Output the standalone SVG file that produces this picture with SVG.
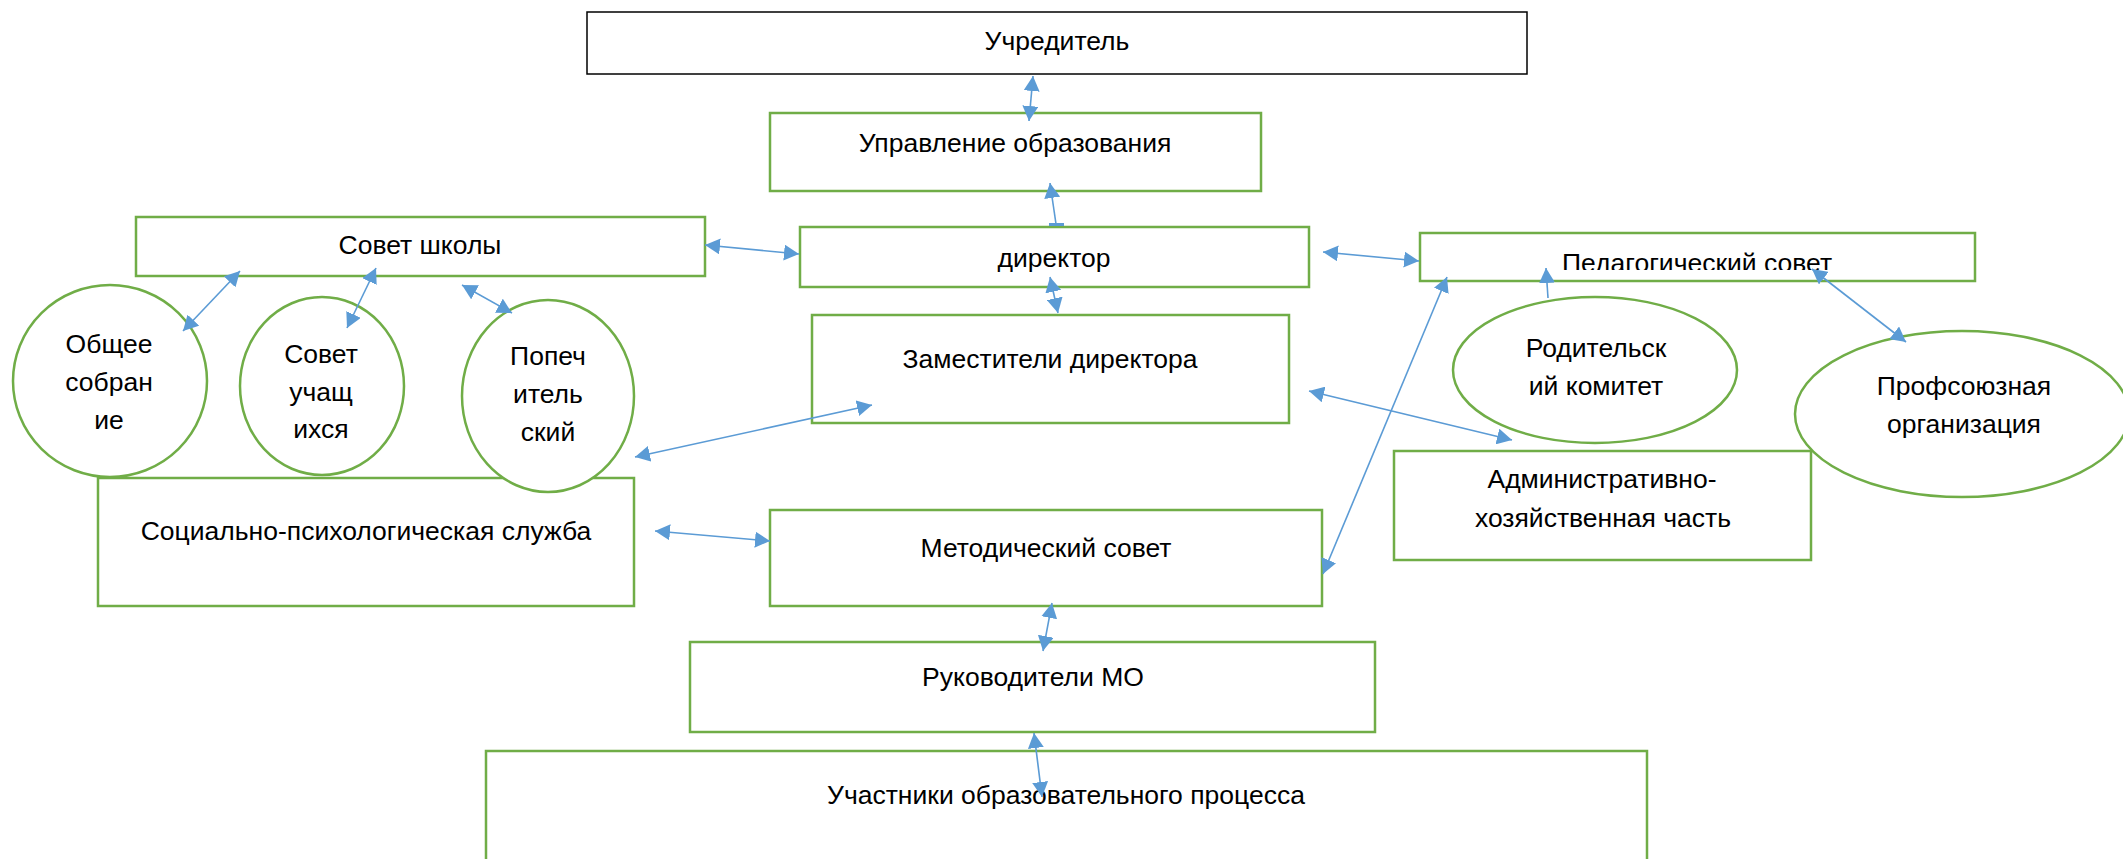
<svg xmlns="http://www.w3.org/2000/svg" width="2123" height="859" viewBox="0 0 2123 859">
<style>
.box{fill:#fff;stroke:#70AD47;stroke-width:2.5}
.blk{fill:#fff;stroke:#000;stroke-width:1.5}
.t{font-family:"Liberation Sans",Arial,sans-serif;font-size:26.5px;fill:#000;text-anchor:middle}
.c{stroke:#5B9BD5;stroke-width:1.6;fill:none;marker-start:url(#ah);marker-end:url(#ah)}
.c1{stroke:#5B9BD5;stroke-width:1.6;fill:none;marker-end:url(#ah)}
</style>
<defs>
<marker id="ah" markerUnits="userSpaceOnUse" markerWidth="16" markerHeight="16" refX="15" refY="8" orient="auto-start-reverse" viewBox="0 0 16 16">
<path d="M0,0 L15,8 L0,16 z" fill="#5B9BD5"/>
</marker>
<clipPath id="pedclip"><rect x="1420" y="233" width="555" height="37"/></clipPath>
</defs>
<rect width="2123" height="859" fill="#fff"/>

<g id="n-uchreditel"><rect class="blk" x="587" y="12" width="940" height="62"/><text class="t" x="1057" y="50">Учредитель</text></g>
<g id="n-upravlenie"><rect class="box" x="770" y="113" width="491" height="78"/><text class="t" x="1015" y="152">Управление образования</text></g>
<g id="n-direktor"><rect class="box" x="800" y="227" width="509" height="60"/><text class="t" x="1054" y="267">директор</text></g>
<g id="n-sovet-shkoly"><rect class="box" x="136" y="217" width="569" height="59"/><text class="t" x="420" y="254">Совет школы</text></g>
<g id="n-ped-sovet"><rect class="box" x="1420" y="233" width="555" height="48"/><text class="t" x="1697" y="272" clip-path="url(#pedclip)">Педагогический совет</text></g>
<g id="n-zam"><rect class="box" x="812" y="315" width="477" height="108"/><text class="t" x="1050" y="368">Заместители директора</text></g>
<g id="n-soc"><rect class="box" x="98" y="478" width="536" height="128"/><text class="t" x="366" y="540">Социально-психологическая служба</text></g>
<g id="n-ahch"><rect class="box" x="1394" y="451" width="417" height="109"/><text class="t" x="1602" y="488">Административно-</text><text class="t" x="1603" y="527">хозяйственная часть</text></g>
<g id="n-metod"><rect class="box" x="770" y="510" width="552" height="96"/><text class="t" x="1046" y="557">Методический совет</text></g>
<g id="n-ruk"><rect class="box" x="690" y="642" width="685" height="90"/><text class="t" x="1033" y="686">Руководители МО</text></g>
<g id="n-uchastniki"><rect class="box" x="486" y="751" width="1161" height="130"/><text class="t" x="1066" y="804">Участники образовательного процесса</text></g>
<g id="n-obshchee"><ellipse class="box" cx="110" cy="381" rx="97" ry="96"/><text class="t" x="109" y="353">Общее</text><text class="t" x="109" y="391">собран</text><text class="t" x="109" y="429">ие</text></g>
<g id="n-uchashchihsya"><ellipse class="box" cx="322" cy="386" rx="82" ry="89"/><text class="t" x="321" y="363">Совет</text><text class="t" x="321" y="401">учащ</text><text class="t" x="321" y="438">ихся</text></g>
<g id="n-popech"><ellipse class="box" cx="548" cy="396" rx="86" ry="96"/><text class="t" x="548" y="365">Попеч</text><text class="t" x="548" y="403">итель</text><text class="t" x="548" y="441">ский</text></g>
<g id="n-roditel"><ellipse class="box" cx="1595" cy="370" rx="142" ry="73"/><text class="t" x="1596" y="357">Родительск</text><text class="t" x="1596" y="395">ий комитет</text></g>
<g id="n-profsoyuz"><ellipse class="box" cx="1962" cy="414" rx="167" ry="83"/><text class="t" x="1964" y="395">Профсоюзная</text><text class="t" x="1964" y="433">организация</text></g>

<g id="connectors">
<line class="c" x1="1033" y1="76" x2="1029" y2="121"/>
<line class="c1" x1="1056" y1="224" x2="1050" y2="183"/>
<polygon points="1049,223 1064,223 1064,226 1049,226" fill="#5B9BD5"/>
<line class="c" x1="1050" y1="277" x2="1058" y2="313"/>
<line class="c" x1="705" y1="245" x2="799" y2="254"/>
<line class="c" x1="1323" y1="252" x2="1419" y2="261"/>
<line class="c" x1="1447" y1="277" x2="1323" y2="574"/>
<line class="c" x1="1309" y1="391" x2="1512" y2="440"/>
<line class="c" x1="240" y1="271" x2="183" y2="331"/>
<line class="c" x1="376" y1="268" x2="347" y2="328"/>
<line class="c" x1="462" y1="285" x2="512" y2="313"/>
<line class="c" x1="872" y1="405" x2="635" y2="457"/>
<line class="c" x1="655" y1="531" x2="770" y2="541"/>
<line class="c" x1="1052" y1="603" x2="1043" y2="651"/>
<line class="c" x1="1034" y1="733" x2="1042" y2="797"/>
<line class="c1" x1="1548" y1="298" x2="1546" y2="268"/>
<line class="c" x1="1812" y1="269" x2="1906" y2="342"/>
</g>
</svg>
